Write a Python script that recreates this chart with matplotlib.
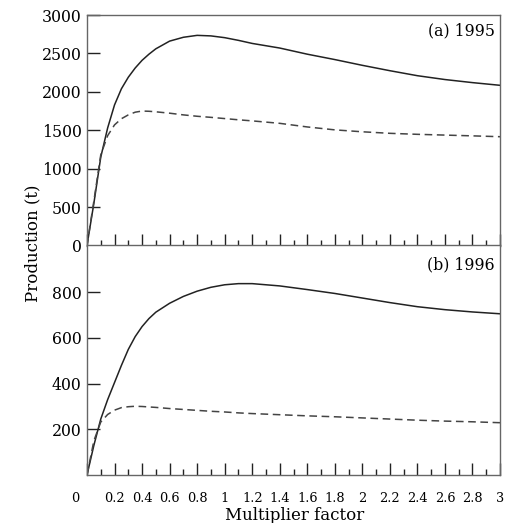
import matplotlib
matplotlib.use("Agg")
import matplotlib.pyplot as plt
from matplotlib.ticker import MultipleLocator
import matplotlib.transforms as mtransforms

plt.rcParams['font.family'] = ['DejaVu Serif']

# Multiplier factor values (x) at which production was read
mult = [0, 0.05, 0.1, 0.15, 0.2, 0.25, 0.3, 0.35, 0.4, 0.45, 0.5, 0.6, 0.7, 0.8, 0.9,
        1.0, 1.1, 1.2, 1.4, 1.6, 1.8, 2.0, 2.2, 2.4, 2.6, 2.8, 3.0]

# (a) 1995
prod_1995_solid = [0, 550, 1150, 1530, 1830, 2040, 2190, 2310, 2410, 2490, 2560, 2660, 2710,
                   2735, 2728, 2705, 2670, 2630, 2570, 2490, 2420, 2345, 2275,
                   2210, 2160, 2120, 2085]
prod_1995_dashed = [0, 580, 1180, 1430, 1570, 1650, 1700, 1735, 1750, 1747, 1740, 1722, 1700,
                    1682, 1668, 1652, 1636, 1622, 1590, 1543, 1505, 1480, 1460,
                    1447, 1437, 1427, 1416]

# (b) 1996
prod_1996_solid = [0, 130, 245, 330, 405, 480, 550, 606, 650, 685, 713, 752, 782,
                   805, 822, 833, 838, 838, 828, 812, 795, 775, 755,
                   737, 724, 714, 706]
prod_1996_dashed = [0, 150, 232, 265, 284, 295, 299, 301, 300, 298, 296, 291, 287,
                    283, 279, 276, 272, 269, 264, 259, 255, 250, 245,
                    240, 236, 233, 229]

panel_labels = ["(a) 1995", "(b) 1996"]
yticks_a = [0, 500, 1000, 1500, 2000, 2500, 3000]
yticks_b = [200, 400, 600, 800]
xticks = [0, 0.2, 0.4, 0.6, 0.8, 1, 1.2, 1.4, 1.6, 1.8, 2, 2.2, 2.4, 2.6, 2.8, 3]
xticklabels = ["0", "0.2", "0.4", "0.6", "0.8", "1", "1.2", "1.4", "1.6", "1.8",
               "2", "2.2", "2.4", "2.6", "2.8", "3"]

W, H = 509, 523
fig = plt.figure(figsize=(W / 100, H / 100), dpi=100)
left = 87 / W
width = 413 / W
ax1 = fig.add_axes([left, 1 - 245.5 / H, width, (245.5 - 15) / H])
ax2 = fig.add_axes([left, 1 - 475 / H, width, (475 - 245.5) / H])

spine_col = "#666666"
line_col = "#222222"
fs = 11.3

for ax in (ax1, ax2):
    for s in ax.spines.values():
        s.set_color(spine_col)
        s.set_linewidth(1.0)
    ax.set_xlim(0, 3)
    ax.xaxis.set_major_locator(MultipleLocator(0.2))
    ax.xaxis.set_minor_locator(MultipleLocator(0.1))
    ax.tick_params(axis='x', which='major', direction='in', length=9, width=1,
                   color=line_col, top=False)
    ax.tick_params(axis='x', which='minor', direction='in', length=4.5, width=1,
                   color=line_col, top=False)
    ax.tick_params(axis='y', which='major', direction='in', length=9, width=1,
                   color=line_col, labelsize=fs, pad=4, right=False)

ax1.plot(mult, prod_1995_solid, color=line_col, lw=1.1)
ax1.plot(mult, prod_1995_dashed, color="#444444", lw=1.1, ls=(0, (5, 3)))
ax1.set_ylim(0, 3000)
ax1.set_yticks(yticks_a)
ax1.set_yticklabels([str(v) for v in yticks_a])
ax1.tick_params(axis='x', labelbottom=False)
ax1.text(0.987, 0.93, panel_labels[0], transform=ax1.transAxes, ha='right',
         va='center', fontsize=fs)

ax2.plot(mult, prod_1996_solid, color=line_col, lw=1.1)
ax2.plot(mult, prod_1996_dashed, color="#444444", lw=1.1, ls=(0, (5, 3)))
ax2.set_ylim(0, 1005)
ax2.set_yticks(yticks_b)
ax2.set_yticklabels([str(v) for v in yticks_b])
ax2.set_xticks(xticks)
ax2.set_xticklabels(xticklabels, fontsize=9.3)
ax2.tick_params(axis='x', which='major', pad=12)
# shift the "0" x label leftwards like the reference
lbl0 = ax2.get_xticklabels()[0]
lbl0.set_transform(lbl0.get_transform() + mtransforms.ScaledTranslation(-12 / 100, 0, fig.dpi_scale_trans))
ax2.text(0.987, 0.915, panel_labels[1], transform=ax2.transAxes, ha='right',
         va='center', fontsize=fs)

fig.text(33 / W, 1 - 243 / H, "Production (t)", rotation=90, ha='center',
         va='center', fontsize=fs + 0.7)
fig.text(295 / W, 1 - 515 / H, "Multiplier factor", ha='center', va='center',
         fontsize=fs + 0.7)

fig.savefig("out.png", dpi=100)
